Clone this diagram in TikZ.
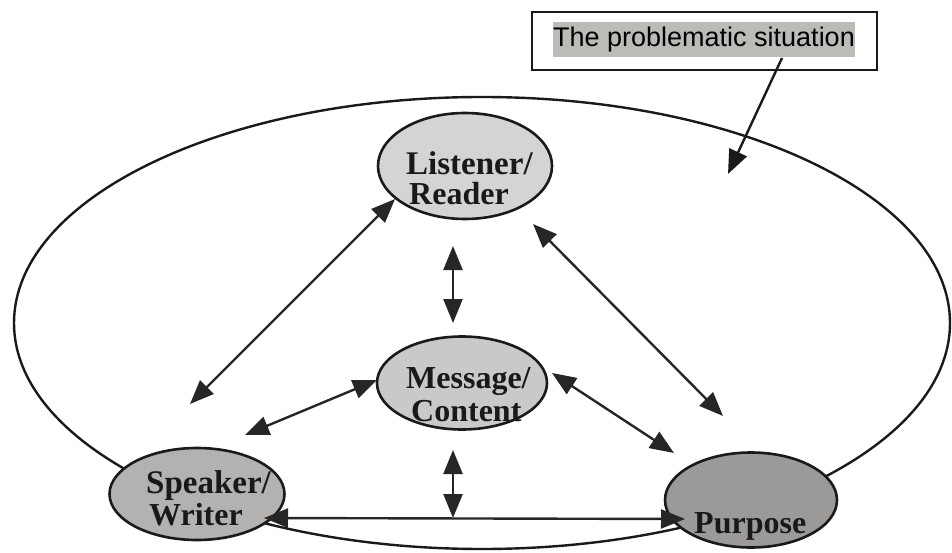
\documentclass[tikz,border=0pt]{standalone}
\usepackage{fontspec}
\setmainfont{Liberation Serif}
\newfontfamily\boxfont{Liberation Sans}
\usetikzlibrary{arrows.meta,shapes.geometric}

\definecolor{inkline}{HTML}{1A1A1A}
\definecolor{arrowink}{HTML}{262626}
\definecolor{shadeA}{HTML}{D6D4D3}
\definecolor{shadeB}{HTML}{CBC9C8}
\definecolor{shadeC}{HTML}{B4B2B0}
\definecolor{shadeD}{HTML}{9C9A98}
\definecolor{hilite}{HTML}{BDBBB8}

\tikzset{
  bighead/.tip={Triangle[length=24pt,width=19pt]},
  party/.style={ellipse, draw=inkline, line width=2.6pt, inner sep=0pt},
  partytext/.style={anchor=base west, inner sep=0pt, font=\bfseries\fontsize{32}{30}\selectfont, text=black!90},
  link/.style={draw=arrowink, line width=2.4pt, bighead-bighead},
  pointer/.style={draw=inkline, line width=2.4pt, -bighead},
}

\begin{document}
\begin{tikzpicture}[x=1pt,y=-1pt]
\useasboundingbox (0,0) rectangle (952,553);

% the situation that encloses the whole exchange
\node[ellipse, draw=inkline, line width=2.4pt, minimum width=936pt, minimum height=452pt, inner sep=0pt] (situation) at (482,323) {};

% the four parties
\node[party, fill=shadeA, minimum width=174pt, minimum height=106pt] (listener) at (465,166) {};
\node[party, fill=shadeB, minimum width=170pt, minimum height=93pt] (message) at (462,383) {};
\node[party, fill=shadeC, minimum width=175pt, minimum height=92pt] (speaker) at (197,494) {};
\node[party, fill=shadeD, minimum width=172pt, minimum height=95pt] (purpose) at (751,500) {};

\node[partytext, font=\bfseries\fontsize{33}{30}\selectfont] (listenerA) at (406,175) {Listener/};
\node[partytext] (listenerB) at (409,205) {Reader};
\node[partytext] (messageA) at (406,388) {Message/};
\node[partytext] (messageB) at (411,421) {Content};
\node[partytext, font=\bfseries\fontsize{33}{30}\selectfont] (speakerA) at (146,493) {Speaker/};
\node[partytext] (speakerB) at (149,525) {Writer};
\node[partytext] (purposeA) at (694,533) {Purpose};

% caption box
\node[draw=inkline, line width=2.6pt, minimum width=345pt, minimum height=58pt, inner sep=0pt] (captionbox) at (704.5,41) {};
\node[fill=hilite, minimum width=302pt, minimum height=35pt, inner sep=0pt] (caption) at (704,39.5) {};
\node[anchor=base, inner sep=0pt, font=\boxfont\fontsize{27}{30}\selectfont, text=black] (captiontext) at (704,47) {The problematic situation};

% end points of the relation arrows
\coordinate (lsA) at (395,199);  \coordinate (lsB) at (190,404);
\coordinate (lmA) at (453,246);  \coordinate (lmB) at (453,323);
\coordinate (lpA) at (533,224);  \coordinate (lpB) at (723,416);
\coordinate (msA) at (377,380);  \coordinate (msB) at (245,435);
\coordinate (mpA) at (552,373);  \coordinate (mpB) at (674,453);
\coordinate (mbA) at (453,450);  \coordinate (mbB) at (453,518);
\coordinate (spA) at (264,518);  \coordinate (spB) at (685,519);
\coordinate (capFrom) at (782,58); \coordinate (capTo) at (728,174);

\draw[link] (lsA) -- (lsB);
\draw[link] (lmA) -- (lmB);
\draw[link] (lpA) -- (lpB);
\draw[link] (msA) -- (msB);
\draw[link] (mpA) -- (mpB);
\draw[link] (mbA) -- (mbB);
\draw[link] (spA) -- (spB);
\draw[pointer] (capFrom) -- (capTo);
\end{tikzpicture}
\end{document}
